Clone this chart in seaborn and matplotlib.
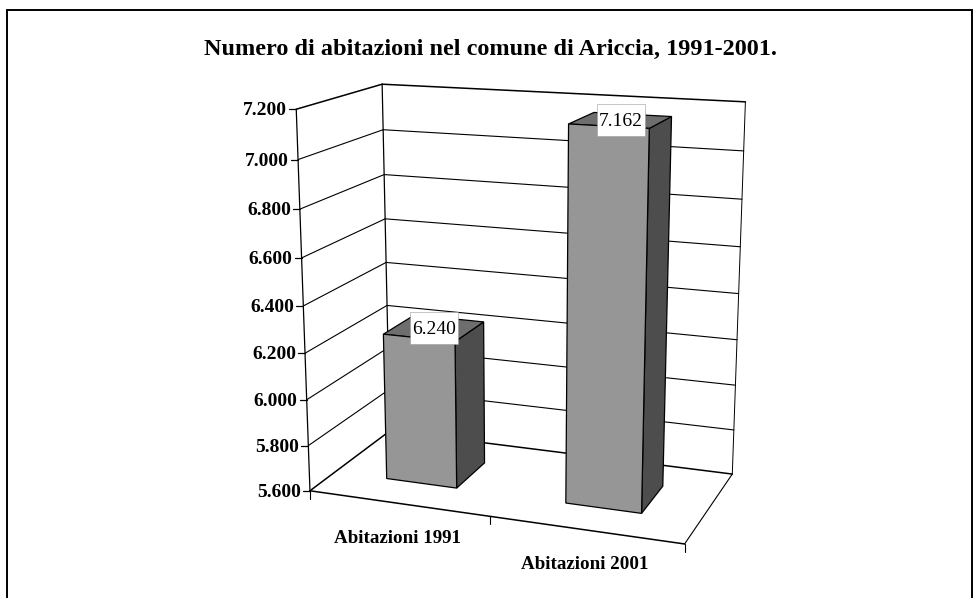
import numpy as np
import pandas as pd
import seaborn as sns
import matplotlib.pyplot as plt
from matplotlib.patches import Polygon, Rectangle

TITLE = "Numero di abitazioni nel comune di Ariccia, 1991-2001."
categories = ["Abitazioni 1991", "Abitazioni 2001"]
abitazioni = [6240, 7162]
y_ticks = [5600, 5800, 6000, 6200, 6400, 6600, 6800, 7000, 7200]

BAR_WIDTH = 0.4
DEPTH_FRONT = 0.3
DEPTH_BACK = 0.7

# where the corners of the plot box sit on the canvas: (x, depth, value) -> pixel
CALIB = [
    (0, 0, 5600, 310.0, 491.3), (0, 0, 7200, 296.0, 109.3),
    (0, 1, 5600, 390.0, 431.0), (0, 1, 7200, 381.7, 84.0),
    (1, 1, 5600, 732.3, 473.7), (1, 1, 7200, 745.7, 102.0),
    (1, 0, 5600, 684.3, 544.3),
    (0, 1, 7000, 383.3, 130.0), (0, 1, 6800, 384.0, 174.7),
    (1, 1, 7000, 743.3, 151.0), (1, 1, 6800, 742.3, 199.0),
    (0, 0, 6000, 306.5, 399.0), (0, 0, 6800, 300.5, 209.0),
]


def fitProjection(points):
    A, b = [], []
    for x, d, v, px, py in points:
        z = (v - 5600) / 1600
        A.append([x, d, z, 1, 0, 0, 0, 0, -px * x, -px * d, -px * z])
        A.append([0, 0, 0, 0, x, d, z, 1, -py * x, -py * d, -py * z])
        b += [px, py]
    h = np.linalg.lstsq(np.array(A), np.array(b), rcond=None)[0]
    return np.append(h, 1).reshape(3, 4)


P = fitProjection(CALIB)


def proj(x, d, v):
    u = P @ np.array([x, d, (v - 5600) / 1600, 1])
    return u[0] / u[2], u[1] / u[2]


def dotted(v):
    return f"{int(round(v)):,}".replace(",", ".")


def face(ax, corners, color, zorder):
    ax.add_patch(Polygon([proj(*c) for c in corners], closed=True, facecolor=color,
                         edgecolor="black", linewidth=0.9, zorder=zorder))


def edge(ax, a, b, lw=1.1):
    pa, pb = proj(*a), proj(*b)
    ax.plot([pa[0], pb[0]], [pa[1], pb[1]], color="black", lw=lw, zorder=2,
            solid_capstyle="round")


def plotBox(ax):
    lo, hi = y_ticks[0], y_ticks[-1]
    for v in y_ticks[1:-1]:
        edge(ax, (0, 0, v), (0, 1, v), 0.8)
        edge(ax, (0, 1, v), (1, 1, v), 0.8)
    edge(ax, (0, 0, hi), (0, 1, hi))
    edge(ax, (0, 1, hi), (1, 1, hi))
    edge(ax, (0, 0, lo), (0, 0, hi), 0.9)
    edge(ax, (0, 1, lo), (0, 1, hi), 0.9)
    edge(ax, (1, 1, lo), (1, 1, hi), 0.7)
    edge(ax, (0, 0, lo), (1, 0, lo))
    edge(ax, (0, 0, lo), (0, 1, lo))
    edge(ax, (0, 1, lo), (1, 1, lo))
    edge(ax, (1, 0, lo), (1, 1, lo), 0.8)

    for v in y_ticks:
        px, py = proj(0, 0, v)
        ax.plot([px - 7, px], [py, py], color="black", lw=0.9, zorder=2)
        ax.text(px - 9, py + 1.5, dotted(v), ha="right", va="center",
                fontsize=14, fontweight="bold", color="black")
    for x in [0, 0.5, 1]:
        px, py = proj(x, 0, lo)
        ax.plot([px, px], [py, py + 8], color="black", lw=0.8, zorder=2)


def plotBars(ax, base):
    lo = y_ticks[0]
    for i, (p, name) in enumerate(zip(base.patches, categories)):
        x0 = (p.get_x() + 0.5) / 2
        x1 = (p.get_x() + p.get_width() + 0.5) / 2
        v = p.get_height()
        d0, d1 = DEPTH_FRONT, DEPTH_BACK
        z = 5 + i
        face(ax, [(x1, d0, lo), (x1, d1, lo), (x1, d1, v), (x1, d0, v)], "#4d4d4d", z)
        face(ax, [(x0, d0, v), (x1, d0, v), (x1, d1, v), (x0, d1, v)], "#6e6e6e", z)
        face(ax, [(x0, d0, lo), (x1, d0, lo), (x1, d0, v), (x0, d0, v)], "#969696", z)
        cx, cy = proj((x0 + x1) / 2, (d0 + d1) / 2, v)
        ax.add_patch(Rectangle((cx - 24, cy - 16), 48, 32, facecolor="white",
                               edgecolor="#999999", linewidth=0.4, zorder=10))
        ax.text(cx, cy + 1.5, dotted(v), ha="center", va="center",
                fontsize=14, color="black", zorder=11)
        lx, ly = proj((i + 0.5) / 2, 0, lo)
        ax.text(lx, ly + 35, name, ha="center", va="center", fontsize=13.7,
                fontweight="bold", color="black")


def main():
    sns.set_theme(style="white")
    plt.rcParams["font.family"] = ["Liberation Serif", "DejaVu Serif"]

    fig = plt.figure(figsize=(9.73, 5.98), dpi=100)
    base = fig.add_axes([0, 0, 1, 1])
    df = pd.DataFrame({"categoria": categories, "abitazioni": abitazioni})
    sns.barplot(data=df, x="categoria", y="abitazioni", width=BAR_WIDTH, ax=base)
    base.set_visible(False)

    ax = fig.add_axes([0, 0, 1, 1])
    ax.set_xlim(0, 973)
    ax.set_ylim(598, 0)
    ax.axis("off")

    ax.add_patch(Rectangle((6.5, 9.5), 965.5, 600, facecolor="white", edgecolor="black", lw=1.4))
    plotBox(ax)
    plotBars(ax, base)
    ax.text(491, 49, TITLE, ha="center", va="center", fontsize=17.5, fontweight="bold",
            color="black")
    fig.savefig("out.png", dpi=100)


main()
